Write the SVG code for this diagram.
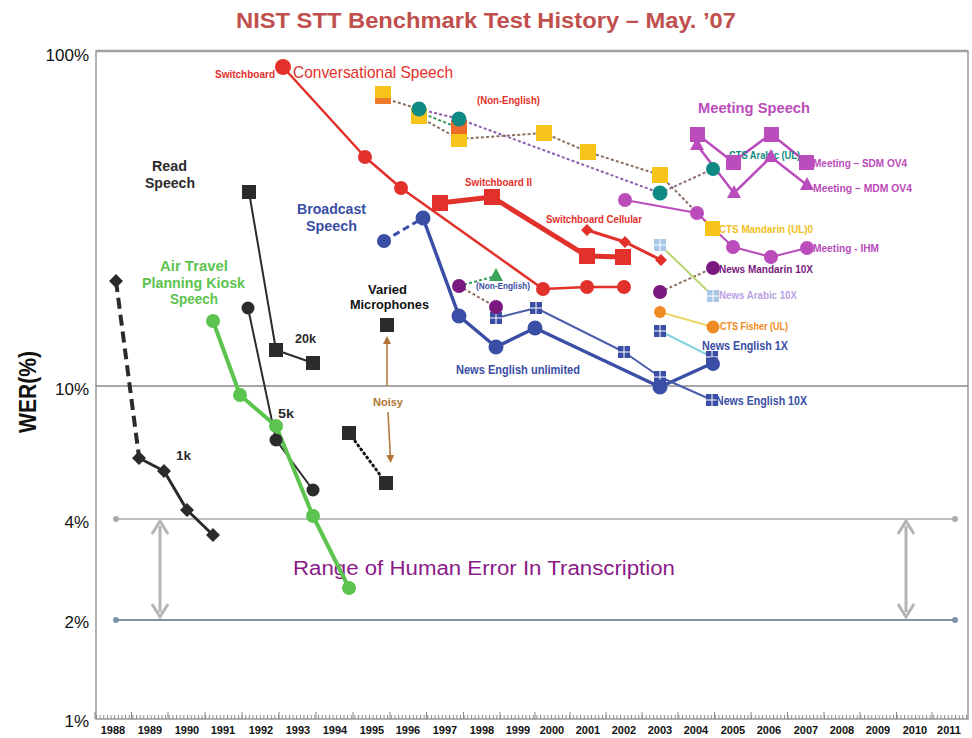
<svg xmlns="http://www.w3.org/2000/svg" width="972" height="738" viewBox="0 0 972 738">
<style>
text{font-family:"Liberation Sans",Arial,sans-serif}
.b{font-weight:bold}
.lab{font-size:10px;font-weight:bold}
.red{fill:#e2312b}
.blu{fill:#3a4ea6}
.grn{fill:#5cc34e}
.mag{fill:#bb4cbb}
.blk{fill:#2b2b2b}
.teal{fill:#0f8a82}
.yel{fill:#f6c41a}
.org{fill:#f08a24}
.pur{fill:#7a1a80}
.ln{fill:none;stroke-linejoin:round;stroke-linecap:round}
.dot{fill:none;stroke-width:2;stroke-dasharray:3 2.2}
.yr{font-size:11px;font-weight:bold;text-anchor:middle;fill:#111}
.ax{font-size:17px;text-anchor:end;fill:#111}
</style>
<defs>
<pattern id="mt" patternUnits="userSpaceOnUse" x="96" y="0" width="3.64" height="738"><rect x="0" y="715" width="1" height="4" fill="#888"/></pattern>
<g id="bsq"><rect x="-6" y="-6" width="12" height="12" fill="#3a4ea6"/><path d="M0-6V6M-6 0H6" stroke="#fff" stroke-width="1"/></g>
<g id="lsq"><rect x="-6" y="-6" width="12" height="12" fill="#a9c8e8"/><path d="M0-6V6M-6 0H6" stroke="#fff" stroke-width="1"/></g>
<marker id="ah" markerWidth="8" markerHeight="8" refX="4" refY="4" orient="auto" markerUnits="userSpaceOnUse"><path d="M0,0L8,4L0,8Z" fill="#b07434"/></marker>
</defs>

<g id="title"><text x="486" y="28" font-size="22" class="b" fill="#c0504d" text-anchor="middle" textLength="500" lengthAdjust="spacingAndGlyphs">NIST STT Benchmark Test History – May. ’07</text></g>

<g id="axes">
<rect x="96" y="51" width="872" height="668" fill="none" stroke="#9a9a9a" stroke-width="1.5"/>
<line x1="96" y1="51" x2="968" y2="51" stroke="#a0a0a0" stroke-width="2.5"/>
<line x1="96" y1="386" x2="968" y2="386" stroke="#8a8a8a" stroke-width="1.5"/>
<line x1="116" y1="519" x2="955" y2="519" stroke="#aaaaaa" stroke-width="1.5"/>
<circle cx="116" cy="519" r="3" fill="#aaa"/><circle cx="955" cy="519" r="3" fill="#aaa"/>
<line x1="116" y1="620" x2="955" y2="620" stroke="#7c93a8" stroke-width="1.8"/>
<circle cx="116" cy="620" r="3" fill="#7c93a8"/><circle cx="955" cy="620" r="3" fill="#7c93a8"/>
<rect x="96" y="714" width="872" height="5" fill="url(#mt)"/>
<path d="M95 712V719M131.5 712V719M168 712V719M205 712V719M242 712V719M279 712V719M316 712V719M353 712V719M390 712V719M426.5 712V719M463.5 712V719M500 712V719M535 712V719M570 712V719M606 712V719M642 712V719M678 712V719M714.5 712V719M751 712V719M787.5 712V719M824 712V719M860 712V719M896.5 712V719M932 712V719" stroke="#888" stroke-width="1"/>
<text class="ax" x="89" y="61">100%</text>
<text class="ax" x="89" y="395">10%</text>
<text class="ax" x="89" y="528">4%</text>
<text class="ax" x="89" y="628">2%</text>
<text class="ax" x="89" y="727">1%</text>
<text transform="translate(36 392) rotate(-90)" font-size="24" class="b" text-anchor="middle" fill="#111" textLength="82" lengthAdjust="spacingAndGlyphs">WER(%)</text>
<g>
<text class="yr" x="113" y="734">1988</text><text class="yr" x="150" y="734">1989</text><text class="yr" x="187" y="734">1990</text><text class="yr" x="223" y="734">1991</text><text class="yr" x="261" y="734">1992</text><text class="yr" x="298" y="734">1993</text><text class="yr" x="335" y="734">1994</text><text class="yr" x="372" y="734">1995</text><text class="yr" x="408" y="734">1996</text><text class="yr" x="445" y="734">1997</text><text class="yr" x="482" y="734">1998</text><text class="yr" x="518" y="734">1999</text><text class="yr" x="552" y="734">2000</text><text class="yr" x="588" y="734">2001</text><text class="yr" x="624" y="734">2002</text><text class="yr" x="660" y="734">2003</text><text class="yr" x="696" y="734">2004</text><text class="yr" x="733" y="734">2005</text><text class="yr" x="769" y="734">2006</text><text class="yr" x="806" y="734">2007</text><text class="yr" x="842" y="734">2008</text><text class="yr" x="878" y="734">2009</text><text class="yr" x="915" y="734">2010</text><text class="yr" x="949" y="734">2011</text>
</g>
</g>

<g id="human-range">
<line x1="160" y1="526" x2="160" y2="612" stroke="#b4b4b4" stroke-width="3"/>
<path d="M152 534L160 521L168 534M152 604L160 617L168 604" fill="none" stroke="#b4b4b4" stroke-width="3"/>
<line x1="906" y1="526" x2="906" y2="612" stroke="#b4b4b4" stroke-width="3"/>
<path d="M898 534L906 521L914 534M898 604L906 617L914 604" fill="none" stroke="#b4b4b4" stroke-width="3"/>
<text x="293" y="575" font-size="20" fill="#8a1a88" textLength="382" lengthAdjust="spacingAndGlyphs">Range of Human Error In Transcription</text>
</g>

<g id="connectors">
<polyline class="dot" stroke="#8c7060" points="383,98 419,109"/>
<polyline class="dot" stroke="#8d5fb0" points="419,109 459,119 660,193"/>
<polyline class="dot" stroke="#3a9a60" points="419,112 459,128"/>
<polyline class="dot" stroke="#8c7060" points="419,117 459,139 544,133 588,152 660,175 713,229"/>
<polyline class="dot" stroke="#8c6a80" points="660,193 713,169"/>
<polyline class="dot" stroke="#3a9a60" points="459,286 496,276"/>
<polyline class="dot" stroke="#8c7060" points="459,286 496,307"/>
<polyline class="dot" stroke="#8c7060" points="660,292 713,268"/>
<polyline class="ln" stroke="#e2312b" stroke-width="2.5" points="283,67 365,157 401,188 543,289 587,287 624,287"/>
<polyline class="ln" stroke="#e2312b" stroke-width="5" points="440,203 492,197 587,256 623,257"/>
<polyline class="ln" stroke="#e2312b" stroke-width="3" points="587,230 625,242 661,260"/>
<line x1="384" y1="241" x2="423" y2="218" stroke="#3a4ea6" stroke-width="3" stroke-dasharray="7 4"/>
<polyline class="ln" stroke="#3a4ea6" stroke-width="3.5" points="423,218 459,316 496,347 535,328 660,387 713,363"/>
<polyline class="ln" stroke="#4b5da8" stroke-width="2" points="496,318 536,308 624,352 660,377 712,400"/>
<line x1="660" y1="331" x2="712" y2="357" stroke="#86d2de" stroke-width="2"/>
<line x1="660" y1="245" x2="713" y2="296" stroke="#b9d46e" stroke-width="2"/>
<line x1="660" y1="312" x2="713" y2="327" stroke="#f0d468" stroke-width="2"/>
<polyline class="ln" stroke="#bb4cbb" stroke-width="2.5" points="697,134 733,162 771,134 806,162"/>
<polyline class="ln" stroke="#bb4cbb" stroke-width="2.5" points="697,145 734,193 771,157 807,185"/>
<polyline class="ln" stroke="#bb4cbb" stroke-width="2" points="625,200 697,213 733,247 771,257 807,248"/>
<line x1="116" y1="281" x2="139" y2="457" stroke="#2b2b2b" stroke-width="4" stroke-dasharray="11 6"/>
<polyline class="ln" stroke="#2b2b2b" stroke-width="3" points="139,458 164,471 187,510 213,535"/>
<polyline class="ln" stroke="#2b2b2b" stroke-width="2" points="249,192 276,350 313,363"/>
<polyline class="ln" stroke="#2b2b2b" stroke-width="2" points="248,308 276,440 313,490"/>
<line x1="349" y1="433" x2="386" y2="483" stroke="#111" stroke-width="3" stroke-dasharray="1 4" stroke-linecap="round"/>
<line x1="387" y1="386" x2="387" y2="340" stroke="#b07434" stroke-width="1.5" marker-end="url(#ah)"/>
<line x1="388" y1="412" x2="390.5" y2="459" stroke="#b07434" stroke-width="1.5" marker-end="url(#ah)"/>
<polyline class="ln" stroke="#5cc34e" stroke-width="4" points="213,321 240,395 276,426 313,516 349,588"/>
</g>

<g id="conversational-nodes">
<circle class="red" cx="283" cy="67" r="8"/><circle class="red" cx="365" cy="157" r="7"/><circle class="red" cx="401" cy="188" r="7"/><circle class="red" cx="543" cy="289" r="7"/><circle class="red" cx="587" cy="287" r="7"/><circle class="red" cx="624" cy="287" r="7"/>
<rect class="red" x="432" y="195" width="16" height="16"/><rect class="red" x="484" y="189" width="16" height="16"/><rect class="red" x="579" y="248" width="16" height="16"/><rect class="red" x="615" y="249" width="16" height="16"/>
<path class="red" d="M587 224L593 230L587 236L581 230ZM625 236L631 242L625 248L619 242ZM661 254L667 260L661 266L655 260Z"/>
<text class="lab red" x="215" y="78" textLength="60" lengthAdjust="spacingAndGlyphs">Switchboard</text>
<text class="red" x="293" y="78" font-size="17" textLength="160" lengthAdjust="spacingAndGlyphs">Conversational Speech</text>
<text class="lab red" x="465" y="186" textLength="67" lengthAdjust="spacingAndGlyphs">Switchboard II</text>
<text class="lab red" x="546" y="223" textLength="96" lengthAdjust="spacingAndGlyphs">Switchboard Cellular</text>
<text class="lab red" x="477" y="104" textLength="63" lengthAdjust="spacingAndGlyphs">(Non-English)</text>
</g>

<g id="non-english-nodes">
<rect class="yel" x="375" y="86" width="16" height="18"/><rect x="375" y="98" width="16" height="6" fill="#ee7a2a"/>
<rect class="yel" x="411" y="108" width="16" height="16"/>
<rect class="yel" x="451" y="131" width="16" height="16"/>
<rect x="451" y="120" width="16" height="14" fill="#ee6a2a"/>
<circle class="teal" cx="419" cy="109" r="7.5"/>
<circle class="teal" cx="459" cy="119" r="7.5"/>
<rect class="yel" x="536" y="125" width="16" height="16"/>
<rect class="yel" x="580" y="144" width="16" height="16"/>
<rect class="yel" x="652" y="167" width="16" height="16"/>
<circle class="teal" cx="660" cy="193" r="7.5"/>
<circle class="teal" cx="713" cy="169" r="7"/>
<rect class="yel" x="705" y="221" width="15" height="15"/>
<text class="lab teal" x="729" y="159" textLength="71" lengthAdjust="spacingAndGlyphs">CTS Arabic (UL)</text>
<text class="lab" fill="#f2c01a" x="719" y="233" textLength="94" lengthAdjust="spacingAndGlyphs">CTS Mandarin  (UL)0</text>
</g>

<g id="meeting-nodes">
<rect class="mag" x="690" y="127" width="15" height="15"/><rect class="mag" x="726" y="155" width="15" height="15"/><rect class="mag" x="764" y="127" width="15" height="15"/><rect class="mag" x="799" y="155" width="15" height="15"/>
<path class="mag" d="M697 137L704 150L690 150ZM734 185L741 198L727 198ZM771 149L778 162L764 162ZM807 177L814 190L800 190Z"/>
<circle class="mag" cx="625" cy="200" r="7"/><circle class="mag" cx="697" cy="213" r="7"/><circle class="mag" cx="733" cy="247" r="7"/><circle class="mag" cx="771" cy="257" r="7"/><circle class="mag" cx="807" cy="248" r="7"/>
<text class="mag b" x="698" y="113" font-size="15" textLength="112" lengthAdjust="spacingAndGlyphs">Meeting Speech</text>
<text class="lab mag" x="813" y="167" textLength="94" lengthAdjust="spacingAndGlyphs">Meeting – SDM OV4</text>
<text class="lab mag" x="813" y="192" textLength="99" lengthAdjust="spacingAndGlyphs">Meeting – MDM OV4</text>
<text class="lab mag" x="813" y="252" textLength="66" lengthAdjust="spacingAndGlyphs">Meeting - IHM</text>
</g>

<g id="broadcast-nodes">
<circle class="blu" cx="384" cy="241" r="7"/><circle class="blu" cx="423" cy="218" r="7.5"/><circle class="blu" cx="459" cy="316" r="7.5"/><circle class="blu" cx="496" cy="347" r="7.5"/><circle class="blu" cx="535" cy="328" r="7.5"/>
<use href="#bsq" x="496" y="318"/><use href="#bsq" x="536" y="308"/><use href="#bsq" x="624" y="352"/><use href="#bsq" x="660" y="377"/><use href="#bsq" x="712" y="400"/>
<circle class="blu" cx="660" cy="387" r="7.5"/>
<use href="#bsq" x="660" y="331"/><use href="#bsq" x="712" y="357"/>
<circle class="blu" cx="713" cy="364" r="7"/>
<circle class="pur" cx="459" cy="286" r="7"/><circle class="pur" cx="496" cy="307" r="7"/>
<path d="M496 268L503 281L489 281Z" fill="#3aa45a"/>
<circle class="pur" cx="660" cy="292" r="7"/><circle class="pur" cx="713" cy="268" r="7"/>
<use href="#lsq" x="660" y="245"/><use href="#lsq" x="713" y="296"/>
<circle class="org" cx="660" cy="312" r="6"/><circle class="org" cx="713" cy="327" r="6.5"/>
<text class="blu b" x="297" y="214" font-size="14" textLength="69" lengthAdjust="spacingAndGlyphs">Broadcast</text>
<text class="blu b" x="306" y="231" font-size="14" textLength="51" lengthAdjust="spacingAndGlyphs">Speech</text>
<text class="blu b" x="476" y="289" font-size="9" textLength="54" lengthAdjust="spacingAndGlyphs">(Non-English)</text>
<text class="blu b" x="456" y="374" font-size="12" textLength="124" lengthAdjust="spacingAndGlyphs">News English unlimited</text>
<text class="blu b" x="702" y="350" font-size="12" textLength="86" lengthAdjust="spacingAndGlyphs">News English 1X</text>
<text class="blu b" x="716" y="405" font-size="12" textLength="91" lengthAdjust="spacingAndGlyphs">News English 10X</text>
<text class="lab pur" x="719" y="273" textLength="94" lengthAdjust="spacingAndGlyphs">News Mandarin 10X</text>
<text class="lab" fill="#b9a2e2" x="719" y="299" textLength="78" lengthAdjust="spacingAndGlyphs">News Arabic 10X</text>
<text class="lab org" x="720" y="330" textLength="68" lengthAdjust="spacingAndGlyphs">CTS Fisher (UL)</text>
</g>

<g id="read-nodes">
<path class="blk" d="M116 274L123 281L116 288L109 281ZM139 451L146 458L139 465L132 458ZM164 464L171 471L164 478L157 471ZM187 503L194 510L187 517L180 510ZM213 528L220 535L213 542L206 535Z"/>
<rect class="blk" x="242" y="185" width="14" height="14"/><rect class="blk" x="269" y="343" width="14" height="14"/><rect class="blk" x="306" y="356" width="14" height="14"/>
<circle class="blk" cx="248" cy="308" r="6.5"/><circle class="blk" cx="276" cy="440" r="6.5"/><circle class="blk" cx="313" cy="490" r="6.5"/>
<rect class="blk" x="380" y="318" width="14" height="14"/><rect class="blk" x="342" y="426" width="14" height="14"/><rect class="blk" x="379" y="476" width="14" height="14"/>
<text class="blk b" x="152" y="171" font-size="14" textLength="35" lengthAdjust="spacingAndGlyphs">Read</text>
<text class="blk b" x="145" y="188" font-size="14" textLength="50" lengthAdjust="spacingAndGlyphs">Speech</text>
<text class="blk b" x="295" y="343" font-size="12" textLength="21" lengthAdjust="spacingAndGlyphs">20k</text>
<text class="blk b" x="278" y="418" font-size="12" textLength="16" lengthAdjust="spacingAndGlyphs">5k</text>
<text class="blk b" x="176" y="460" font-size="12" textLength="15" lengthAdjust="spacingAndGlyphs">1k</text>
<text class="b" fill="#111" x="368" y="294" font-size="13" textLength="39" lengthAdjust="spacingAndGlyphs">Varied</text>
<text class="b" fill="#111" x="350" y="309" font-size="13" textLength="79" lengthAdjust="spacingAndGlyphs">Microphones</text>
<text class="b" fill="#b07434" x="373" y="406" font-size="11" textLength="30" lengthAdjust="spacingAndGlyphs">Noisy</text>
</g>

<g id="air-travel-nodes">
<circle class="grn" cx="213" cy="321" r="7"/><circle class="grn" cx="240" cy="395" r="7"/><circle class="grn" cx="276" cy="426" r="7"/><circle class="grn" cx="313" cy="516" r="7"/><circle class="grn" cx="349" cy="588" r="7"/>
<text class="grn b" x="160" y="271" font-size="14" textLength="68" lengthAdjust="spacingAndGlyphs">Air Travel</text>
<text class="grn b" x="142" y="288" font-size="14" textLength="103" lengthAdjust="spacingAndGlyphs">Planning Kiosk</text>
<text class="grn b" x="170" y="304" font-size="14" textLength="48" lengthAdjust="spacingAndGlyphs">Speech</text>
</g>
</svg>
